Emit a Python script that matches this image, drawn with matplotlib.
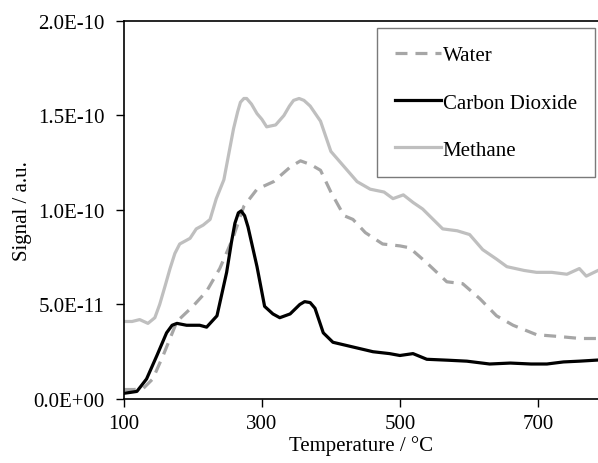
import matplotlib
matplotlib.use("Agg")
import matplotlib.pyplot as plt
from matplotlib.ticker import FuncFormatter, FixedLocator

plt.rcParams['font.family'] = ['Liberation Serif', 'DejaVu Serif']

# Temperature (°C) and signals (units of 1e-11)
water_t = [100, 115, 128, 142, 157, 177, 200, 220, 239, 258, 274, 293, 317, 342, 356, 371, 385,
           400, 419, 432, 450, 475, 500, 514, 539, 568, 591, 616, 640, 664, 698, 732, 761, 787]
water_v = [0.5, 0.5, 0.55, 1.06, 2.3, 4.1, 4.9, 5.7, 6.9, 8.5, 10.2, 11.1, 11.5, 12.3, 12.6, 12.4, 12.1,
           10.95, 9.7, 9.5, 8.8, 8.2, 8.1, 8.0, 7.2, 6.2, 6.1, 5.3, 4.4, 3.9, 3.4, 3.3, 3.2, 3.2]

co2_t = [100, 110, 119, 133, 148, 162, 170, 177, 191, 210, 220, 235, 249, 256, 261, 266, 270, 275,
         280, 293, 304, 316, 326, 341, 355, 362, 370, 377, 389, 403, 432, 461, 485, 500, 519, 539,
         570, 597, 630, 660, 690, 713, 737, 760, 787]
co2_v = [0.3, 0.35, 0.4, 1.06, 2.3, 3.5, 3.9, 4.0, 3.9, 3.9, 3.8, 4.4, 6.7, 8.3, 9.3, 9.85, 9.95, 9.7,
         9.1, 7.0, 4.9, 4.5, 4.3, 4.5, 5.0, 5.15, 5.1, 4.8, 3.5, 3.0, 2.75, 2.5, 2.4, 2.3, 2.4, 2.1,
         2.05, 2.0, 1.85, 1.9, 1.85, 1.85, 1.96, 2.0, 2.06]

ch4_t = [100, 112, 123, 135, 145, 152, 160, 167, 174, 181, 196, 205, 215, 225, 234, 245, 259, 265,
         269, 274, 278, 285, 293, 300, 307, 320, 332, 340, 346, 354, 361, 370, 385, 400, 419, 438,
         457, 477, 490, 505, 519, 533, 562, 583, 601, 620, 640, 655, 680, 698, 720, 742, 760, 770, 787]
ch4_v = [4.1, 4.1, 4.2, 4.0, 4.3, 5.0, 6.0, 6.9, 7.7, 8.2, 8.5, 9.0, 9.2, 9.5, 10.6, 11.6, 14.3, 15.2,
         15.7, 15.9, 15.9, 15.6, 15.1, 14.8, 14.4, 14.5, 15.0, 15.5, 15.8, 15.9, 15.8, 15.5, 14.7, 13.1,
         12.3, 11.5, 11.1, 10.95, 10.6, 10.8, 10.4, 10.05, 9.0, 8.9, 8.7, 7.9, 7.4, 7.0, 6.8, 6.7, 6.7,
         6.6, 6.9, 6.5, 6.8]

x_ticks = [100, 300, 500, 700]
y_ticks = [0, 5e-11, 1e-10, 1.5e-10, 2e-10]
labels = ["Water", "Carbon Dioxide", "Methane"]

scale = 1e-11
fs = 15
fig = plt.figure(figsize=(5.98, 4.64), dpi=100)
ax = fig.add_axes([0.207, 0.138, 0.793, 0.8146])

ax.plot(water_t, [v * scale for v in water_v], color='#a6a6a6', lw=2.3, ls=(0, (3.75, 2.5)),
        label=labels[0])
ax.plot(co2_t, [v * scale for v in co2_v], color='black', lw=2.3, label=labels[1])
ax.plot(ch4_t, [v * scale for v in ch4_v], color='#bfbfbf', lw=2.3, label=labels[2])

ax.set_xlim(100, 787)
ax.set_ylim(0, 2e-10)
ax.xaxis.set_major_locator(FixedLocator(x_ticks))
ax.yaxis.set_major_locator(FixedLocator(y_ticks))

def fmt(v, pos):
    if v == 0:
        return "0.0E+00"
    s = "%.1E" % v
    mant, exp = s.split("E")
    return "%sE%s%02d" % (mant, exp[0], int(exp[1:]))

ax.yaxis.set_major_formatter(FuncFormatter(fmt))
ax.tick_params(axis='both', direction='out', length=6, width=1, labelsize=fs, colors='black')
ax.tick_params(axis='x', pad=5)
ax.tick_params(axis='y', pad=8)
for s in ['left', 'bottom', 'top']:
    ax.spines[s].set_linewidth(1.2)
ax.spines['right'].set_visible(False)

ax.set_xlabel("Temperature / °C", fontsize=fs, labelpad=1)
ax.set_ylabel("Signal / a.u.", fontsize=fs, labelpad=1)

leg = ax.legend(loc='upper right', bbox_to_anchor=(0.993, 0.981), fontsize=fs, frameon=True,
                fancybox=False, edgecolor='#595959', handlelength=2.2, handletextpad=0.1,
                labelspacing=1.32, borderpad=0.85, borderaxespad=0)
leg.get_frame().set_linewidth(1.0)

fig.savefig("out.png", dpi=100)
